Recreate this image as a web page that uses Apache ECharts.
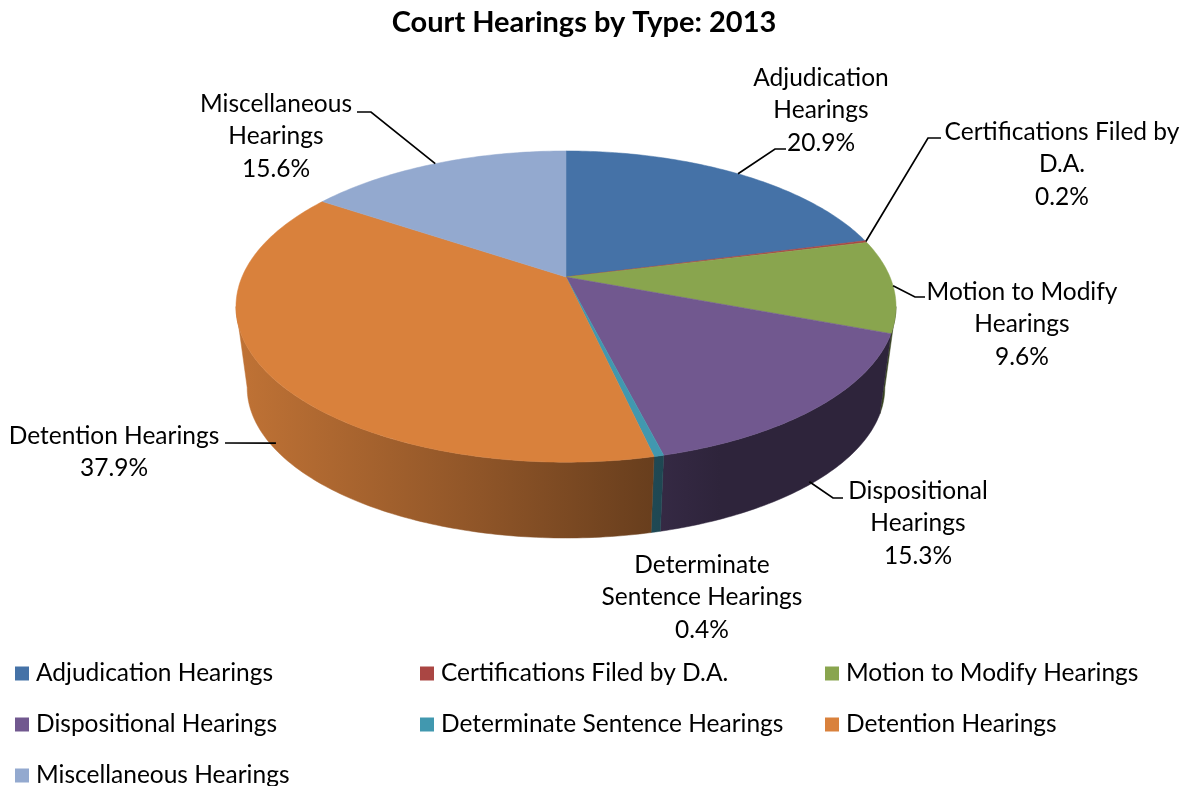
<!DOCTYPE html>
<html>
<head>
<meta charset="utf-8">
<style>html,body{margin:0;padding:0;background:#fff}#c{width:1188px;height:786px}</style>
<script src="https://cdn.jsdelivr.net/npm/echarts@6/dist/echarts.min.js"></script>
</head>
<body>
<div id="c"></div>
<script>
const categories = ['Adjudication Hearings','Certifications Filed by D.A.','Motion to Modify Hearings','Dispositional Hearings','Determinate Sentence Hearings','Detention Hearings','Miscellaneous Hearings'];
const values = [20.9,0.2,9.6,15.3,0.4,37.9,15.6];
const labelLines = [['Adjudication','Hearings'],['Certifications Filed by','D.A.'],['Motion to Modify','Hearings'],['Dispositional','Hearings'],['Determinate','Sentence Hearings'],['Detention Hearings'],['Miscellaneous','Hearings']];
const colors = ['#4572A7','#AA4643','#89A54E','#71588F','#4198AF','#D9813C','#93A9CF'];

// label layout: [centre x, first line y, knee x, knee y, end x, end y, how far down the wall the leader starts]
const labelLayout = [
  [821,78,775,149,786,149,0],
  [1062,132,928,138,941,138,0],
  [1022,292,915,297,925,297,0],
  [918,491,833,498,843,498,0.96],
  [702,565,null,null,null,null,0],
  [114,436,225,443,225,443,0.9],
  [276,104,371,112,357,112,0]
];
const FONT = 'Lato, "Open Sans", sans-serif';
const FS = 24.5, LH = 32.5;

// perspective of the pie disc
const cx = 566, k = 0.19;
const topRing = {cy:277, A:324, B:150};
const botRing = {cy:359, A:313, B:145};
const silhouette = Math.acos(-k);
function project(ring, t){
  const w = 1 + k*Math.cos(t);
  return [cx + ring.A*Math.sin(t)/w, ring.cy - ring.B*Math.cos(t)/w];
}
function arc(ring, a0, a1){
  const n = Math.max(2, Math.ceil(Math.abs(a1-a0)/0.015));
  const p = [];
  for(let i=0;i<=n;i++) p.push(project(ring, a0+(a1-a0)*i/n));
  return p;
}
const total = values.reduce((a,b)=>a+b,0);
function shade(hex,f){
  const n=parseInt(hex.slice(1),16);
  return 'rgb('+[(n>>16)&255,(n>>8)&255,n&255].map(c=>Math.round(c*f)).join(',')+')';
}
function wallFill(hex){
  return {type:'linear',global:true,x:240,y:0,x2:720,y2:0,colorStops:[
    {offset:0,color:shade(hex,0.88)},{offset:0.5,color:shade(hex,0.66)},
    {offset:0.86,color:shade(hex,0.48)},{offset:1,color:shade(hex,0.41)}]};
}
let cum = 0;
const series = categories.map((name,i)=>{
  const a0 = cum/total*2*Math.PI; cum += values[i];
  const a1 = cum/total*2*Math.PI;
  const mid = (a0+a1)/2;
  return {
    name, type:'custom', coordinateSystem:'none', silent:true, animation:false,
    itemStyle:{color:colors[i]},
    data:[[values[i]]],
    renderItem(){
      const children=[];
      const wa0=Math.max(a0,silhouette), wa1=Math.min(a1,2*Math.PI-silhouette);
      if(wa1>wa0){
        const pts=arc(topRing,wa0,wa1).concat(arc(botRing,wa1,wa0));
        children.push({type:'polygon',z2:1,shape:{points:pts},style:{fill:wallFill(colors[i]),stroke:wallFill(colors[i]),lineWidth:0.5}});
      }
      const pts=[[cx,topRing.cy]].concat(arc(topRing,a0,a1));
      children.push({type:'polygon',z2:5,shape:{points:pts},style:{fill:colors[i],stroke:colors[i],lineWidth:0.5}});
      const [lx,ly,kx,ky,ex,ey,down]=labelLayout[i];
      if(kx!==null){
        const t=project(topRing,mid), b=project(botRing,mid);
        const s=[t[0]+(b[0]-t[0])*down,t[1]+(b[1]-t[1])*down];
        children.push({type:'polyline',z2:8,shape:{points:[s,[kx,ky],[ex,ey]]},style:{fill:null,stroke:'#000',lineWidth:1.7}});
      }
      const lines=labelLines[i].concat([values[i].toFixed(1)+'%']);
      lines.forEach((t,j)=>children.push({type:'text',z2:10,style:{text:t,x:lx,y:ly+j*LH,textAlign:'center',textVerticalAlign:'middle',fill:'#000',font:FS+'px '+FONT}}));
      return {type:'group',children};
    }
  };
});
const chart = echarts.init(document.getElementById('c'),null,{renderer:'canvas'});
chart.setOption({
  animation:false,
  backgroundColor:'#fff',
  title:{text:'Court Hearings by Type: 2013',left:579,top:3,textAlign:'center',textStyle:{fontFamily:FONT,fontSize:29,fontWeight:'bold',color:'#000'}},
  legend:{
    data:categories,left:15,top:659,width:1210,padding:0,orient:'horizontal',icon:'rect',itemWidth:14,itemHeight:14,itemGap:22,
    selectedMode:false,
    textStyle:{fontFamily:FONT,fontSize:FS,color:'#000',width:362,height:29,lineHeight:29,padding:[0,0,0,2],overflow:'none'}
  },
  series
});
</script>
</body>
</html>
